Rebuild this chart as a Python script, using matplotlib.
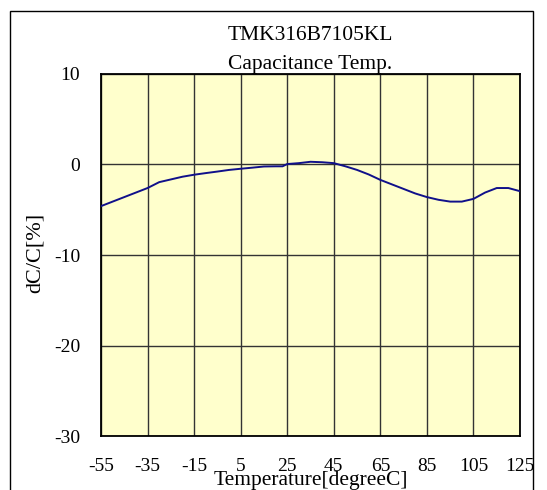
#!/usr/bin/env python3
import matplotlib
matplotlib.use('Agg')
import matplotlib.pyplot as plt
from matplotlib.patches import Rectangle

W, H = 547, 490

temps = [-55, -45, -35, -30, -25, -20, -15, -10, -5, 0, 5, 10, 15, 20, 23,
         25, 30, 35, 40, 45, 50, 55, 60, 65, 70, 75, 80, 85, 90, 95, 100,
         105, 110, 115, 120, 125]
dcc = [-4.6, -3.6, -2.6, -1.95, -1.65, -1.35, -1.13, -0.95, -0.78, -0.6,
       -0.47, -0.35, -0.22, -0.2, -0.2, 0.05, 0.15, 0.3, 0.25, 0.15, -0.2,
       -0.6, -1.1, -1.7, -2.2, -2.7, -3.2, -3.6, -3.9, -4.1, -4.1, -3.8,
       -3.1, -2.6, -2.6, -2.95]

xticks = [-55, -35, -15, 5, 25, 45, 65, 85, 105, 125]
yticks = [10, 0, -10, -20, -30]

plt.rcParams['font.family'] = ['Liberation Serif', 'DejaVu Serif']
plt.rcParams['axes.unicode_minus'] = False

fig = plt.figure(figsize=(W / 100, H / 100), dpi=100)

# outer chart border
fig.patches.append(Rectangle((10 / W, -0.05), 523 / W, 1.05 - 11 / H,
                             transform=fig.transFigure, fill=False,
                             edgecolor='black', linewidth=1.0))

ax = fig.add_axes([101 / W, 1 - 436 / H, 419 / W, 362 / H])
ax.set_facecolor('#FFFFCC')
ax.plot(temps, dcc, color='#10108A', linewidth=1.4, zorder=3)

ax.set_xlim(-55, 125)
ax.set_ylim(-30, 10)
ax.set_xticks(xticks)
ax.set_yticks(yticks)
ax.grid(True, color='#333333', linewidth=1.0)
ax.tick_params(length=0, labelsize=14)
ax.tick_params(axis='x', pad=16)
ax.tick_params(axis='y', pad=15)
for s in ax.spines.values():
    s.set_linewidth(1.3)

fig.text(35 / W, 1 - 253 / H, 'dC/C[%]', rotation=90, fontsize=16,
         ha='center', va='center')
fig.text(310.5 / W, 1 - 480 / H, 'Temperature[degreeC]', fontsize=15.5,
         ha='center', va='center')
fig.text(310.5 / W, 1 - 35 / H, 'TMK316B7105KL', fontsize=15.5,
         ha='center', va='center')
fig.text(310.5 / W, 1 - 64 / H, 'Capacitance Temp.', fontsize=15.5,
         ha='center', va='center')

fig.savefig('out.png', dpi=100)
